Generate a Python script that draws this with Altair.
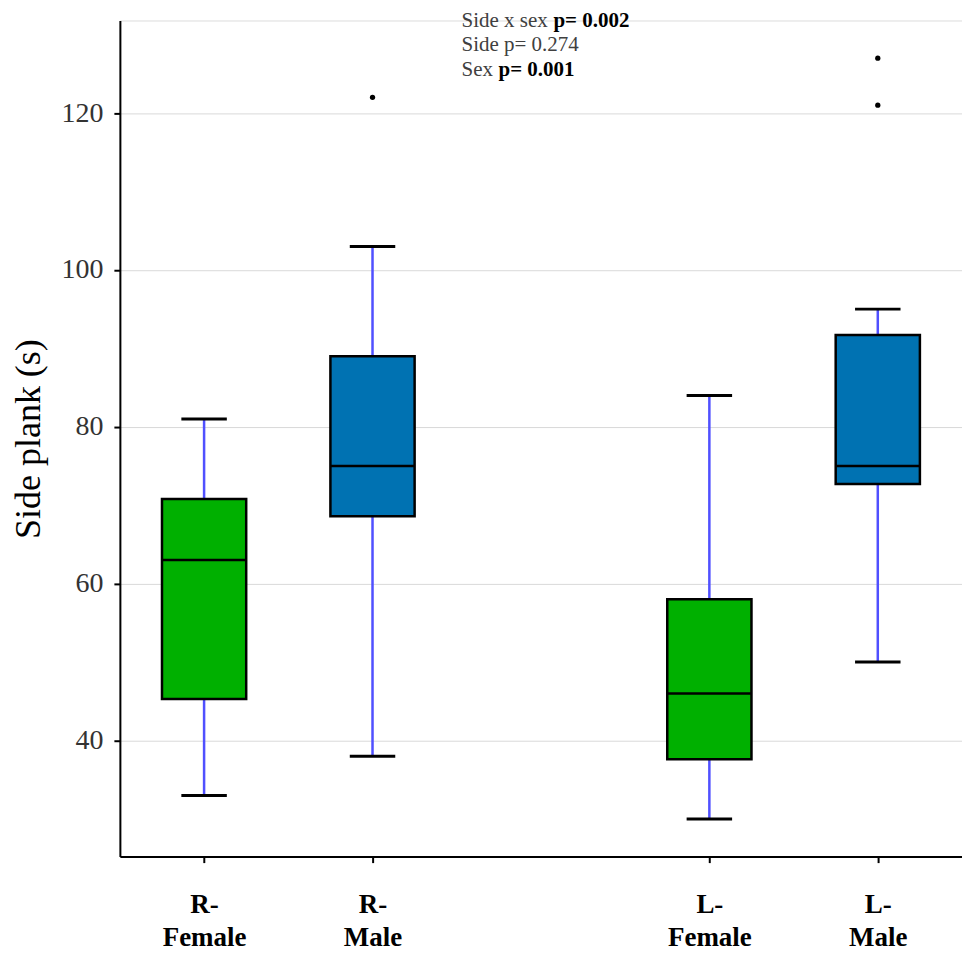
import altair as alt
import pandas as pd

# ---- data ----
groups = ["R-Female", "R-Male", "L-Female", "L-Male"]
label_lines = [["R-", "Female"], ["R-", "Male"], ["L-", "Female"], ["L-", "Male"]]
sex = ["Female", "Male", "Female", "Male"]
whisker_low = [33, 38, 30, 50]
q1 = [45.3, 68.6, 37.6, 72.7]
median = [63, 75, 46, 75]
q3 = [70.8, 89, 58, 91.7]
whisker_high = [81, 103, 84, 95]
outlier_group = ["R-Male", "L-Male", "L-Male"]
outlier_value = [122, 121, 127]
y_ticks = [40, 60, 80, 100, 120]

# layout slots (gap between R and L sides)
slot = [1, 2, 4, 5]
slot_of = dict(zip(groups, slot))

box_df = pd.DataFrame({
    "group": groups, "sex": sex, "pos": slot,
    "low": whisker_low, "q1": q1, "median": median, "q3": q3, "high": whisker_high,
})
out_df = pd.DataFrame({
    "group": outlier_group,
    "pos": [slot_of[g] for g in outlier_group],
    "value": outlier_value,
})

FONT = "Liberation Serif"

label_expr = " : ".join(
    f"datum.value == {p} ? ['{a}', '{b}']" for p, (a, b) in zip(slot, label_lines)
) + " : ''"

x_scale = alt.Scale(domain=[0.5, 5.5], nice=False, zero=False)
y_scale = alt.Scale(domain=[25.2, 131.8], nice=False, zero=False)

x_axis = alt.Axis(
    values=slot, labelExpr=label_expr, title=None, grid=False,
    labelFont=FONT, labelFontSize=27, labelFontWeight="bold", labelColor="black",
    labelLineHeight=33, labelPadding=29, labelBaseline="top",
    domainColor="black", domainWidth=2, tickColor="black", tickWidth=2, tickSize=6,
)
y_axis = alt.Axis(
    values=y_ticks, title="Side plank (s)", grid=True, gridColor="#d9d9d9", gridWidth=1,
    labelFont=FONT, labelFontSize=28, labelColor="#333333", labelPadding=11,
    titleFont=FONT, titleFontSize=36, titleFontWeight="normal", titleColor="black",
    titlePadding=13,
    domainColor="black", domainWidth=2, tickColor="black", tickWidth=2, tickSize=6,
)

base = alt.Chart(box_df).transform_calculate(
    left="datum.pos - 0.25", right="datum.pos + 0.25",
    capl="datum.pos - 0.135", capr="datum.pos + 0.135",
)

whisker = base.mark_rule(color="#5050FF", strokeWidth=2.5).encode(
    x=alt.X("pos:Q", scale=x_scale, axis=x_axis),
    y=alt.Y("low:Q", scale=y_scale, axis=y_axis),
    y2="high:Q",
)
cap_low = base.mark_rule(color="black", strokeWidth=3).encode(
    x="capl:Q", x2="capr:Q", y="low:Q"
)
cap_high = base.mark_rule(color="black", strokeWidth=3).encode(
    x="capl:Q", x2="capr:Q", y="high:Q"
)
box = base.mark_rect(stroke="black", strokeWidth=2.5).encode(
    x="left:Q", x2="right:Q", y="q1:Q", y2="q3:Q",
    color=alt.Color("sex:N", scale=alt.Scale(domain=["Female", "Male"],
                                             range=["#00B000", "#0072B2"]), legend=None),
)
med = base.mark_rule(color="black", strokeWidth=2.5).encode(
    x="left:Q", x2="right:Q", y="median:Q"
)
outliers = alt.Chart(out_df).mark_circle(color="black", size=28, opacity=1).encode(
    x="pos:Q", y="value:Q"
)

# annotation
ann_normal = ["Side x sex", "Side p= 0.274", "Sex"]
ann_bold = ["p= 0.002", "", "p= 0.001"]
ann_size = 21

def txt(s, yv, bold=False, dx=0):
    return alt.Chart(pd.DataFrame({"t": [s]})).mark_text(
        align="left", baseline="middle", font=FONT, fontSize=ann_size,
        fontWeight="bold" if bold else "normal",
        color="black" if bold else "#404040", dx=dx,
    ).encode(x=alt.value(342), y=alt.value(yv), text="t:N")

ann = [
    txt(ann_normal[0], 1), txt(ann_bold[0], 1, True, 92),
    txt(ann_normal[1], 25),
    txt(ann_normal[2], 50), txt(ann_bold[2], 50, True, 37),
]

chart = alt.layer(whisker, cap_low, cap_high, box, med, outliers, *ann).properties(
    width=843, height=837,
    autosize=alt.AutoSizeParams(type="none"),
    padding={"left": 112, "top": 12, "right": 0, "bottom": 97},
).configure_view(stroke=None).configure(background="white")

chart.save("out.html", embed_options={"renderer": "svg", "actions": False})
